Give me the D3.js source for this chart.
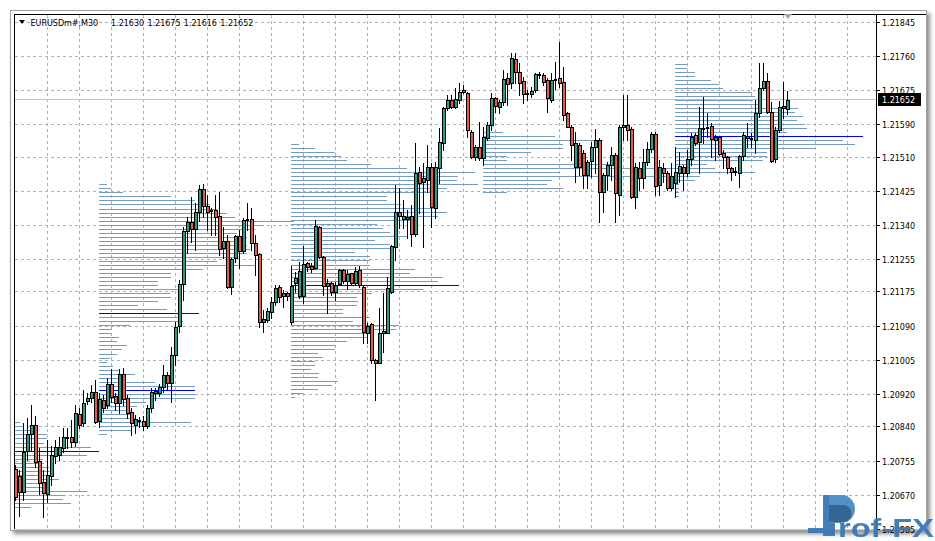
<!DOCTYPE html>
<html><head><meta charset="utf-8">
<script src="https://cdn.jsdelivr.net/npm/d3@7"></script>
<style>html,body{margin:0;padding:0;background:#fff;overflow:hidden}</style>
</head><body>
<svg id="chart" width="935" height="541"></svg>
<script>
// ---------------- DATA ----------------
const symbolTitle = "EURUSDm#,M30";
const lastQuote = [1.21630, 1.21675, 1.21616, 1.21652]; // O H L C of last bar
const currentPrice = 1.21652;
const priceTicks = [1.21845, 1.21760, 1.21675, 1.21590, 1.21510, 1.21425, 1.21340, 1.21255,
                    1.21175, 1.21090, 1.21005, 1.20920, 1.20840, 1.20755, 1.20670, 1.20585];
// candles: [open, high, low, close]
const candles = [
[1.20736,1.20745,1.20659,1.20666],[1.20718,1.20733,1.20619,1.20678],[1.20678,1.20850,1.20659,1.20778],[1.20780,1.20862,1.20758,1.20822],
[1.20822,1.20894,1.20783,1.20845],[1.20845,1.20867,1.20740,1.20753],[1.20755,1.20788,1.20673,1.20701],[1.20703,1.20733,1.20616,1.20676],
[1.20673,1.20808,1.20654,1.20721],[1.20718,1.20793,1.20696,1.20770],[1.20768,1.20808,1.20750,1.20790],[1.20770,1.20815,1.20758,1.20790],
[1.20788,1.20837,1.20778,1.20815],[1.20812,1.20837,1.20788,1.20815],[1.20815,1.20857,1.20790,1.20803],[1.20803,1.20894,1.20793,1.20875],
[1.20872,1.20887,1.20837,1.20845],[1.20850,1.20932,1.20842,1.20899],[1.20904,1.20924,1.20897,1.20912],[1.20912,1.20944,1.20902,1.20927],
[1.20927,1.20957,1.20850,1.20852],[1.20855,1.20924,1.20840,1.20909],[1.20907,1.20919,1.20877,1.20887],[1.20894,1.20961,1.20887,1.20947],
[1.20947,1.20984,1.20902,1.20914],[1.20917,1.20924,1.20882,1.20899],[1.20899,1.20984,1.20875,1.20971],[1.20971,1.20986,1.20894,1.20909],
[1.20912,1.20919,1.20862,1.20875],[1.20877,1.20887,1.20820,1.20850],[1.20845,1.20870,1.20825,1.20860],[1.20855,1.20865,1.20840,1.20857],
[1.20855,1.20867,1.20832,1.20842],[1.20842,1.20894,1.20837,1.20887],[1.20887,1.20937,1.20877,1.20927],[1.20924,1.20937,1.20907,1.20929],
[1.20924,1.20947,1.20917,1.20939],[1.20939,1.20994,1.20927,1.20969],[1.20969,1.20976,1.20932,1.20949],[1.20949,1.21038,1.20902,1.21019],
[1.21019,1.21101,1.20994,1.21088],[1.21091,1.21205,1.21076,1.21195],[1.21195,1.21336,1.21155,1.21326],[1.21326,1.21361,1.21272,1.21349],
[1.21349,1.21411,1.21299,1.21331],[1.21331,1.21396,1.21279,1.21374],[1.21374,1.21441,1.21351,1.21431],[1.21431,1.21443,1.21361,1.21389],
[1.21389,1.21416,1.21329,1.21374],[1.21379,1.21384,1.21317,1.21376],[1.21379,1.21416,1.21317,1.21361],[1.21364,1.21423,1.21267,1.21282],
[1.21284,1.21336,1.21259,1.21302],[1.21302,1.21317,1.21185,1.21187],[1.21187,1.21259,1.21170,1.21257],[1.21259,1.21317,1.21250,1.21314],
[1.21314,1.21329,1.21235,1.21277],[1.21277,1.21359,1.21272,1.21354],[1.21356,1.21396,1.21329,1.21354],[1.21356,1.21384,1.21279,1.21297],
[1.21297,1.21317,1.21217,1.21267],[1.21269,1.21272,1.21088,1.21100],[1.21100,1.21130,1.21076,1.21108],[1.21105,1.21135,1.21100,1.21128],
[1.21125,1.21163,1.21110,1.21150],[1.21150,1.21192,1.21143,1.21185],[1.21187,1.21192,1.21150,1.21163],[1.21165,1.21180,1.21138,1.21173],
[1.21173,1.21175,1.21155,1.21165],[1.21100,1.21240,1.21096,1.21190],[1.21197,1.21225,1.21175,1.21210],[1.21165,1.21250,1.21160,1.21227],
[1.21165,1.21289,1.21148,1.21245],[1.21247,1.21250,1.21227,1.21237],[1.21240,1.21247,1.21225,1.21232],[1.21235,1.21354,1.21232,1.21339],
[1.21336,1.21339,1.21259,1.21262],[1.21262,1.21264,1.21168,1.21190],[1.21190,1.21207,1.21123,1.21197],[1.21197,1.21200,1.21168,1.21175],
[1.21175,1.21200,1.21155,1.21192],[1.21195,1.21232,1.21192,1.21230],[1.21230,1.21232,1.21197,1.21202],[1.21202,1.21230,1.21182,1.21220],
[1.21222,1.21222,1.21195,1.21197],[1.21197,1.21237,1.21192,1.21227],[1.21230,1.21240,1.21187,1.21192],[1.21187,1.21190,1.21048,1.21076],
[1.21073,1.21098,1.21048,1.21091],[1.21096,1.21098,1.20999,1.21006],[1.21006,1.21009,1.20907,1.20999],[1.20999,1.21135,1.20999,1.21073],
[1.21073,1.21173,1.21026,1.21078],[1.21073,1.21212,1.21073,1.21185],[1.21175,1.21292,1.21173,1.21289],[1.21287,1.21441,1.21254,1.21374],
[1.21374,1.21433,1.21334,1.21364],[1.21356,1.21403,1.21334,1.21364],[1.21356,1.21379,1.21309,1.21361],[1.21364,1.21391,1.21289,1.21319],
[1.21319,1.21545,1.21314,1.21470],[1.21473,1.21485,1.21371,1.21446],[1.21448,1.21495,1.21287,1.21458],[1.21453,1.21540,1.21423,1.21485],
[1.21485,1.21495,1.21336,1.21386],[1.21384,1.21498,1.21359,1.21485],[1.21483,1.21582,1.21446,1.21547],[1.21545,1.21634,1.21528,1.21632],
[1.21632,1.21664,1.21627,1.21652],[1.21652,1.21664,1.21632,1.21634],[1.21634,1.21681,1.21632,1.21654],[1.21652,1.21694,1.21644,1.21672],
[1.21672,1.21689,1.21669,1.21676],[1.21669,1.21672,1.21560,1.21577],[1.21572,1.21577,1.21508,1.21510],[1.21510,1.21540,1.21503,1.21535],
[1.21535,1.21597,1.21503,1.21508],[1.21508,1.21585,1.21490,1.21560],[1.21557,1.21597,1.21552,1.21590],[1.21590,1.21669,1.21577,1.21657],
[1.21657,1.21659,1.21622,1.21637],[1.21634,1.21652,1.21619,1.21647],[1.21647,1.21726,1.21639,1.21704],[1.21706,1.21719,1.21639,1.21691],
[1.21694,1.21768,1.21681,1.21756],[1.21754,1.21768,1.21694,1.21721],[1.21721,1.21744,1.21664,1.21694],[1.21699,1.21709,1.21644,1.21667],
[1.21669,1.21676,1.21652,1.21667],[1.21667,1.21684,1.21659,1.21674],[1.21676,1.21719,1.21672,1.21716],[1.21714,1.21721,1.21706,1.21716],
[1.21714,1.21719,1.21689,1.21696],[1.21701,1.21706,1.21622,1.21657],[1.21652,1.21719,1.21647,1.21701],[1.21701,1.21746,1.21679,1.21704],
[1.21706,1.21796,1.21684,1.21694],[1.21696,1.21734,1.21602,1.21614],[1.21619,1.21622,1.21585,1.21585],[1.21585,1.21590,1.21503,1.21540],
[1.21485,1.21572,1.21448,1.21545],[1.21540,1.21545,1.21466,1.21485],[1.21520,1.21528,1.21433,1.21466],[1.21466,1.21503,1.21433,1.21498],
[1.21500,1.21547,1.21461,1.21535],[1.21535,1.21580,1.21470,1.21552],[1.21552,1.21557,1.21349,1.21423],[1.21423,1.21470,1.21374,1.21466],
[1.21466,1.21498,1.21428,1.21490],[1.21490,1.21535,1.21453,1.21515],[1.21515,1.21520,1.21349,1.21421],[1.21416,1.21590,1.21366,1.21585],
[1.21585,1.21664,1.21552,1.21590],[1.21590,1.21664,1.21552,1.21577],[1.21580,1.21585,1.21408,1.21411],[1.21411,1.21495,1.21384,1.21485],
[1.21483,1.21498,1.21428,1.21458],[1.21458,1.21530,1.21433,1.21498],[1.21498,1.21547,1.21490,1.21530],[1.21530,1.21572,1.21523,1.21567],
[1.21567,1.21572,1.21416,1.21438],[1.21441,1.21503,1.21416,1.21485],[1.21483,1.21495,1.21448,1.21470],[1.21470,1.21475,1.21428,1.21433],
[1.21433,1.21495,1.21428,1.21463],[1.21446,1.21535,1.21411,1.21473],[1.21470,1.21523,1.21448,1.21488],[1.21485,1.21490,1.21428,1.21470],
[1.21470,1.21528,1.21463,1.21505],[1.21505,1.21570,1.21490,1.21560],[1.21565,1.21570,1.21540,1.21545],[1.21547,1.21634,1.21470,1.21582],
[1.21580,1.21659,1.21545,1.21582],[1.21585,1.21619,1.21560,1.21582],[1.21587,1.21595,1.21510,1.21555],[1.21552,1.21565,1.21503,1.21560],
[1.21560,1.21562,1.21515,1.21518],[1.21520,1.21528,1.21483,1.21510],[1.21510,1.21513,1.21470,1.21483],[1.21483,1.21485,1.21453,1.21473],
[1.21473,1.21485,1.21466,1.21475],[1.21470,1.21515,1.21436,1.21513],[1.21513,1.21572,1.21503,1.21565],[1.21557,1.21595,1.21535,1.21562],
[1.21555,1.21570,1.21535,1.21557],[1.21552,1.21652,1.21520,1.21619],[1.21619,1.21744,1.21609,1.21681],[1.21681,1.21744,1.21676,1.21699],
[1.21699,1.21719,1.21619,1.21622],[1.21622,1.21647,1.21498,1.21500],[1.21505,1.21585,1.21498,1.21577],[1.21577,1.21649,1.21572,1.21634],
[1.21637,1.21696,1.21607,1.21632],[1.21630,1.21675,1.21616,1.21652]
];
// volume profiles (one per session): start bar, top price level, volumes per 1-pip level (top -> bottom)
const pipSize = 0.0001;
const profileStarts = [-27, 21, 69, 117, 165];
const profileTops = [1.20850, 1.21441, 1.21542, 1.21572, 1.21741];
const profileVolumes = [
  [113,117,127,140,140,137,184,192,180,136,137,142,147,145,152,140,135,180,156,156,164,124],
  [8,12,24,72,96,111,118,128,136,195,164,156,138,148,144,148,151,148,138,118,156,104,72,72,59,59,79,71,72,59,39,68,100,81,84,31,12,12,20,18,28,23,18,11,8,14,21,36,23,56,96,96,96,96,47,38,33,33,37,92,44,33,8],
  [8,24,44,50,56,80,116,184,167,166,187,156,147,96,96,110,147,156,147,120,86,92,99,116,84,99,101,64,79,79,79,124,119,152,147,168,132,81,66,67,66,52,52,79,62,108,105,78,76,56,44,44,27,32,24,24,20,28,27,47,41,27,12,4],
  [20,72,120,80,80,48,24,24,132,230,77,217,69,64,80,24],
  [12,12,20,20,36,44,48,77,80,78,86,123,120,128,122,130,132,112,188,168,180,140,92,92,88,32,40,80,12,20,4,4,4,4]
];
const pocPrices = [[1.20780], [1.21121, 1.20931], [1.21192], [], [1.21561]];
const gridBars = d3.range(8, 216, 8);

// ---------------- LAYOUT / STYLE ----------------
const plot = {left: 14, top: 14, right: 876, bottom: 529};
const bullColor = "#2a9d8a", bearColor = "#e15b4c";
const profColor = "#789cc0", pocColor = "#0000ff";
const gridColor = "#b0b0b0";
const font = "'DejaVu Sans', Verdana, sans-serif";

const svg = d3.select("#chart");
const yScale = d3.scaleLinear().domain([1.21900, 1.20600]).range([0, 523.56]);
const xScale = d3.scaleLinear().domain([0, 1]).range([15.5, 19.5]);
const volScale = d3.scaleLinear().domain([0, 100]).range([0, 100]);
const rowY = v => Math.floor(yScale(v)) + 0.5;

const defs = svg.append("defs");
const f = defs.append("filter").attr("id", "shadow").attr("x", "-5%").attr("y", "-5%").attr("width", "115%").attr("height", "115%");
f.append("feDropShadow").attr("dx", 3).attr("dy", 3).attr("stdDeviation", 2).attr("flood-color", "#000").attr("flood-opacity", 0.45);
defs.append("clipPath").attr("id", "plotClip").append("rect")
  .attr("x", plot.left + 1).attr("y", plot.top + 1)
  .attr("width", plot.right - plot.left - 1).attr("height", plot.bottom - plot.top - 1);

// window frame
svg.append("rect").attr("x", 10.5).attr("y", 10.5).attr("width", 916).attr("height", 520)
  .attr("fill", "#fff").attr("stroke", "#a0a0a0").attr("filter", "url(#shadow)");

const crisp = svg.append("g").attr("shape-rendering", "crispEdges");

// grid
crisp.append("g").selectAll("line").data(priceTicks).join("line")
  .attr("x1", plot.left + 1).attr("x2", plot.right)
  .attr("y1", d => rowY(d)).attr("y2", d => rowY(d))
  .attr("stroke", gridColor).attr("stroke-dasharray", "3,3");
crisp.append("g").selectAll("line").data(gridBars.filter(b => xScale(b) < plot.right)).join("line")
  .attr("x1", d => xScale(d)).attr("x2", d => xScale(d))
  .attr("y1", plot.top + 1).attr("y2", plot.bottom)
  .attr("stroke", gridColor).attr("stroke-dasharray", "3,3");

// current price line
crisp.append("line").attr("x1", plot.left + 1).attr("x2", plot.right)
  .attr("y1", rowY(currentPrice)).attr("y2", rowY(currentPrice)).attr("stroke", "#c0c0c0");

// volume profiles
const profileLines = [];
profileStarts.forEach((s, p) => {
  profileVolumes[p].forEach((v, k) => {
    const price = +(profileTops[p] - k * pipSize).toFixed(5);
    const poc = pocPrices[p].some(q => Math.abs(q - price) < pipSize / 2);
    profileLines.push({start: s, price, vol: v, poc});
  });
});
const pg = crisp.append("g").attr("clip-path", "url(#plotClip)");
pg.selectAll("line").data(profileLines.filter(d => !d.poc).concat(profileLines.filter(d => d.poc))).join("line")
  .attr("x1", d => xScale(d.start) - 0.5)
  .attr("x2", d => xScale(d.start) - 0.5 + volScale(d.vol))
  .attr("y1", d => rowY(d.price)).attr("y2", d => rowY(d.price))
  .attr("stroke", d => d.poc ? pocColor : profColor);

// candles
const cg = crisp.append("g").attr("clip-path", "url(#plotClip)");
cg.selectAll("line").data(candles).join("line")
  .attr("x1", (d, i) => xScale(i)).attr("x2", (d, i) => xScale(i))
  .attr("y1", d => Math.round(yScale(d[1])))
  .attr("y2", d => Math.round(yScale(d[2])) + 1)
  .attr("stroke", "#000");
cg.selectAll("rect").data(candles).join("rect").each(function (d, i) {
  const top = Math.round(yScale(Math.max(d[0], d[3])));
  const bot = Math.round(yScale(Math.min(d[0], d[3])));
  const x = xScale(i);
  const s = d3.select(this);
  if (bot - top < 2) {
    s.attr("x", x - 1.5).attr("y", top).attr("width", 3).attr("height", bot - top + 1).attr("fill", "#000");
  } else {
    s.attr("x", x - 1).attr("y", top + 0.5).attr("width", 3).attr("height", bot - top)
      .attr("fill", d[3] >= d[0] ? bullColor : bearColor).attr("stroke", "#000");
  }
});

// chart-shift marker
svg.append("path").attr("d", "M784,14 L792,14 L788,19 Z").attr("fill", "#a8a8a8");

// frame lines
crisp.append("path").attr("d", `M${plot.left + .5},${plot.bottom} V${plot.top + .5} H926`).attr("fill", "none").attr("stroke", "#000");
crisp.append("line").attr("x1", plot.right + .5).attr("x2", plot.right + .5).attr("y1", plot.top).attr("y2", plot.bottom + 1).attr("stroke", "#000");
crisp.append("line").attr("x1", plot.left).attr("x2", 926).attr("y1", plot.bottom + .5).attr("y2", plot.bottom + .5).attr("stroke", "#c8c8c8");

// price axis ticks and labels
crisp.append("g").selectAll("line").data(priceTicks).join("line")
  .attr("x1", plot.right + 1).attr("x2", plot.right + 4)
  .attr("y1", d => rowY(d)).attr("y2", d => rowY(d)).attr("stroke", "#000");
svg.append("g").selectAll("text").data(priceTicks).join("text")
  .attr("x", 882).attr("y", d => rowY(d) + 3.6)
  .attr("font-family", font).attr("font-size", 8).attr("fill", "#000")
  .text(d => d.toFixed(5));

// current price label
const cy = rowY(currentPrice);
crisp.append("rect").attr("x", 878).attr("y", cy - 6.5).attr("width", 43).attr("height", 13).attr("fill", "#000");
svg.append("text").attr("x", 882).attr("y", cy + 3.6).attr("font-family", font).attr("font-size", 8)
  .attr("fill", "#fff").text(currentPrice.toFixed(5));

// title
svg.append("path").attr("d", "M19,20 L25,20 L22,24 Z").attr("fill", "#000");
svg.append("text").attr("x", 30.5).attr("y", 26).attr("font-family", font).attr("font-size", 8).attr("fill", "#000")
  .text(symbolTitle);
svg.append("text").attr("x", 111).attr("y", 26).attr("font-family", font).attr("font-size", 8).attr("fill", "#000")
  .attr("word-spacing", 0.8).text(lastQuote.map(v => v.toFixed(5)).join(" "));

// Prof-FX logo
const logo = svg.append("g").attr("opacity", 0.95);
logo.append("rect").attr("x", 808).attr("y", 528).attr("width", 15).attr("height", 5).attr("fill", "#3a78b4");
logo.append("rect").attr("x", 823).attr("y", 495).attr("width", 12).attr("height", 41).attr("fill", "#3a78b4");
logo.append("path").attr("d", "M829,495 H841 A14,14 0 0 1 841,523 H829 Z").attr("fill", "#4a8ac6");
logo.append("path").attr("d", "M829,505 H843 A8.5,8.5 0 0 1 843,522 H829 Z").attr("fill", "#2b5d8c");
logo.append("text").attr("x", 838).attr("y", 537).attr("font-family", "'Liberation Sans', Arial, sans-serif")
  .attr("font-weight", "bold").attr("font-size", 26).attr("fill", "#3a78b4")
  .attr("textLength", 96).attr("lengthAdjust", "spacingAndGlyphs").text("rof-FX");
</script>
</body></html>
